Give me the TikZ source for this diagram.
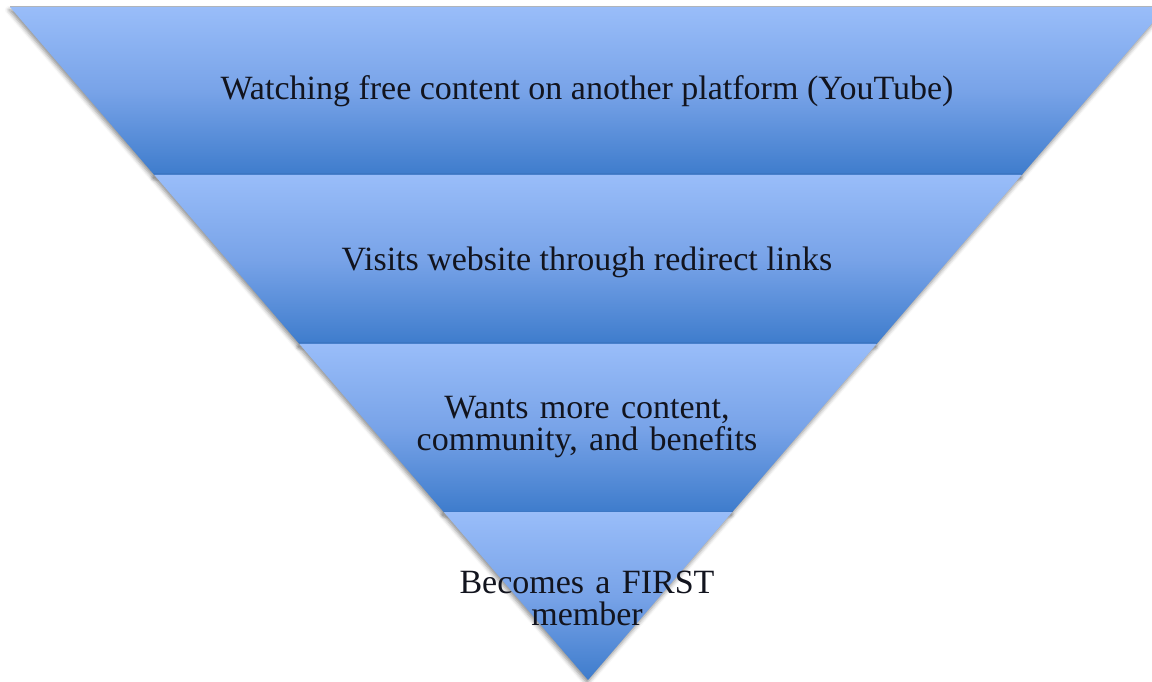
\documentclass[tikz,border=0pt]{standalone}
\usepackage{fontspec}
\setmainfont{Liberation Serif}
\usetikzlibrary{shadows.blur}
\definecolor{bandlight}{RGB}{153,189,249}
\definecolor{bandmid}{RGB}{120,163,232}
\definecolor{bandd}{RGB}{62,124,204}
\definecolor{txt}{RGB}{18,20,30}
\tikzset{
  band/.style={top color=bandlight, bottom color=bandd, middle color=bandmid,
    blur shadow={shadow xshift=-1pt, shadow yshift=-3pt, shadow blur radius=4pt, shadow opacity=45}},
  lbl/.style={font=\fontsize{34}{34}\selectfont, text=txt, align=center, inner sep=0pt},
}
\begin{document}
\begin{tikzpicture}[x=1pt,y=1pt]
\useasboundingbox (0,0) rectangle (1152,681);
\clip (0,0) rectangle (1152,681);
% band corner coordinates (y up)
\coordinate (tl) at (10,674);
\coordinate (tr) at (1166,674);
\coordinate (l1) at (154.3,506);
\coordinate (r1) at (1021.7,506);
\coordinate (l2) at (299.4,337);
\coordinate (r2) at (876.6,337);
\coordinate (l3) at (443.7,169);
\coordinate (r3) at (732.3,169);
\coordinate (ap) at (588,1);
\draw[gray!55, line width=1pt] (tl) -- (tr);
\shade[band] (tl) -- (tr) -- (r1) -- (l1) -- cycle;
\shade[band] (l1) -- (r1) -- (r2) -- (l2) -- cycle;
\shade[band] (l2) -- (r2) -- (r3) -- (l3) -- cycle;
\shade[band] (l3) -- (r3) -- (ap) -- cycle;
\node[lbl] (t1) at (587,590) {Watching free content on another platform (YouTube)};
\node[lbl] (t2) at (587,419) {Visits website through redirect links};
\node[lbl, text width=600pt] (t3) at (587,254) {Wants more content,\\[-2pt] community, and benefits};
\node[lbl, text width=600pt] (t4) at (587,83) {Becomes a FIRST\\[-2pt] member};
\end{tikzpicture}
\end{document}
